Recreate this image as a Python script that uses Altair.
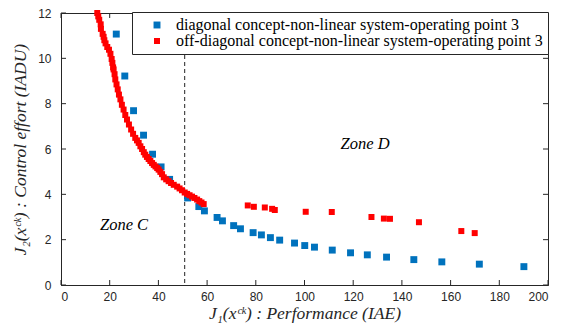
import altair as alt
import pandas as pd

# ---- data ----
diag_x = [22.7, 26.2, 29.8, 33.9, 37.6, 41.1, 44.6, 52.0, 56.6, 58.9, 64.1, 66.3, 70.9, 73.7,
          78.9, 82.3, 86.0, 89.8, 95.9, 100.1, 104.1, 111.4, 118.9, 125.8, 133.7, 144.9,
          156.4, 171.8, 190.1]
diag_y = [11.07, 9.22, 7.69, 6.61, 5.77, 5.21, 4.66, 3.84, 3.46, 3.27, 2.98, 2.83, 2.62, 2.48,
          2.31, 2.21, 2.09, 1.98, 1.85, 1.74, 1.67, 1.54, 1.42, 1.33, 1.23, 1.12,
          1.02, 0.92, 0.81]

off_x = [14.9, 15.3, 15.7, 16.3, 16.4, 17.1, 17.5, 17.8, 18.3, 19.0, 19.7, 20.3, 20.8, 21.1,
         21.4, 21.6, 22.0, 22.3, 22.8, 23.3, 23.8, 24.4, 25.0, 25.7, 26.4, 27.1, 27.9, 28.8,
         29.6, 30.5, 31.2, 31.9, 32.6, 33.3, 34.0, 34.6, 35.3, 36.0, 36.7, 37.4, 38.1, 38.8,
         39.5, 40.1, 40.8, 41.5, 42.2, 43.2, 44.2, 45.2, 46.3, 47.7, 48.7, 49.7, 50.8, 51.8,
         52.8, 53.8, 54.8, 55.9, 56.8, 57.7, 58.6,
         76.7, 79.2, 83.7, 86.7, 87.8, 100.5, 111.2, 127.5, 132.6, 135.1, 147.0, 164.4, 169.9]
off_y = [12.0, 11.85, 11.7, 11.5, 11.3, 11.08, 10.95, 10.8, 10.66, 10.5, 10.38, 10.2, 9.97, 9.8,
         9.6, 9.51, 9.3, 9.07, 8.85, 8.63, 8.4, 8.19, 7.95, 7.74, 7.5, 7.30, 7.08, 6.86,
         6.67, 6.49, 6.38, 6.27, 6.12, 6.0, 5.86, 5.75, 5.65, 5.56, 5.47, 5.38, 5.3, 5.23,
         5.16, 5.09, 4.99, 4.89, 4.75, 4.66, 4.58, 4.5, 4.42, 4.34, 4.26, 4.18, 4.08, 4.02,
         3.96, 3.9, 3.84, 3.77, 3.7, 3.64, 3.57,
         3.51, 3.45, 3.42, 3.36, 3.31, 3.23, 3.22, 3.0, 2.93, 2.92, 2.77, 2.38, 2.29]

series_names = ["diagonal concept-non-linear system-operating point 3",
                "off-diagonal concept-non-linear system-operating point 3"]
series_colors = ["#0072BD", "#FF0000"]

x_ticks = [0, 20, 40, 60, 80, 100, 120, 140, 160, 180, 200]
y_ticks = [0, 2, 4, 6, 8, 10, 12]
boundary_x = [50.8]
zone_text = ["Zone C", "Zone D"]
zone_x = [16.0, 114.8]
zone_y = [2.65, 6.2]

W, H = 487, 272
AX = "#262626"
SERIF = "'Liberation Serif', 'Times New Roman', Times, serif"

xs = alt.Scale(domain=[0, 200], nice=False)
ys = alt.Scale(domain=[0, 12], nice=False)
xaxis = alt.Axis(values=x_ticks, title="J₁(xᶜᵏ) : Performance (IAE)",
                 titleFont=SERIF, titleFontStyle="italic",
                 titleFontWeight="normal", titleFontSize=17.5, titleColor=AX,
                 titlePadding=2, labelPadding=6)
yaxis = alt.Axis(values=y_ticks, title="J₂(xᶜᵏ) : Control effort (IADU)",
                 titleFont=SERIF, titleFontStyle="italic",
                 titleFontWeight="normal", titleFontSize=17.5, titleColor=AX,
                 titlePadding=8, labelPadding=10)

df = pd.DataFrame({
    "x": diag_x + off_x,
    "y": diag_y + off_y,
    "s": [series_names[0]] * len(diag_x) + [series_names[1]] * len(off_x),
})

points = alt.Chart(df).mark_square(opacity=1, filled=True, strokeWidth=0).encode(
    x=alt.X("x:Q", scale=xs, axis=xaxis),
    y=alt.Y("y:Q", scale=ys, axis=yaxis),
    color=alt.Color("s:N", scale=alt.Scale(domain=series_names, range=series_colors),
                    legend=alt.Legend(title=None, labelFont=SERIF)),
    size=alt.Size("s:N", scale=alt.Scale(domain=series_names, range=[48, 36]), legend=None),
    order=alt.Order("s:N"),
)

bdf = pd.DataFrame({"x": boundary_x})
boundary = alt.Chart(bdf).mark_rule(color="#222222", strokeWidth=1, strokeDash=[4, 3]).encode(
    x=alt.X("x:Q", scale=xs, axis=xaxis), y=alt.value(0), y2=alt.value(H))

xt = pd.DataFrame({"x": x_ticks})
yt = pd.DataFrame({"y": y_ticks})
tick_b = alt.Chart(xt).mark_rule(color=AX).encode(
    x=alt.X("x:Q", scale=xs, axis=xaxis), y=alt.value(H), y2=alt.value(H - 5))
tick_t = alt.Chart(xt).mark_rule(color=AX).encode(
    x=alt.X("x:Q", scale=xs, axis=xaxis), y=alt.value(0), y2=alt.value(5))
tick_l = alt.Chart(yt).mark_rule(color=AX).encode(
    y=alt.Y("y:Q", scale=ys, axis=yaxis), x=alt.value(0), x2=alt.value(5))
tick_r = alt.Chart(yt).mark_rule(color=AX).encode(
    y=alt.Y("y:Q", scale=ys, axis=yaxis), x=alt.value(W), x2=alt.value(W - 5))

zdf = pd.DataFrame({"x": zone_x, "y": zone_y, "zt": zone_text})
zones = alt.Chart(zdf).mark_text(font=SERIF, fontStyle="italic", fontSize=16.5,
                                 align="left", baseline="middle", color="#000000").encode(
    x=alt.X("x:Q", scale=xs, axis=xaxis), y=alt.Y("y:Q", scale=ys, axis=yaxis), text="zt:N")

chart = alt.layer(boundary, tick_b, tick_t, tick_l, tick_r, points, zones).properties(
    width=W, height=H,
    autosize=alt.AutoSizeParams(type="none"),
    padding={"left": 61, "top": 13, "right": 20, "bottom": 41},
).configure_view(stroke=AX, strokeWidth=1).configure_axis(
    grid=False, ticks=False, tickSize=0, domainColor=AX, domainWidth=1,
    labelFont="Liberation Sans", labelFontSize=12, labelColor=AX,
).configure_legend(
    orient="none", legendX=71, legendY=-1, fillColor="#ffffff", strokeColor=AX,
    padding=5, symbolOffset=12, symbolType="square", symbolSize=45, symbolStrokeWidth=0,
    labelFont=SERIF, labelFontSize=16, labelColor="#000000", labelOffset=11,
    labelLimit=600, rowPadding=0, cornerRadius=0,
)

chart.save("out.html", embed_options={"renderer": "svg", "actions": False})
